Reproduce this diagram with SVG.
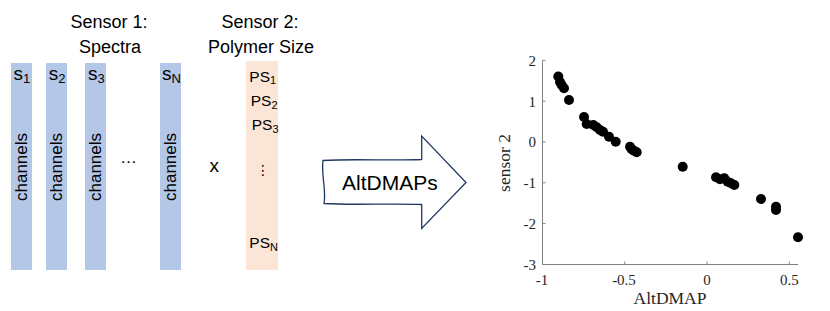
<svg xmlns="http://www.w3.org/2000/svg" width="830" height="311" viewBox="0 0 830 311">
<style>
.sans{font-family:"Liberation Sans",Arial,sans-serif;fill:#000}
.serif{font-family:"Liberation Serif","Times New Roman",serif;fill:#262626}
.bar{fill:#B4C7E7}
.ps{fill:#FBE5D6}
.title{font-size:18px;text-anchor:middle}
.ch{font-size:17px;text-anchor:middle}
.lab{font-size:19px}
.sub{font-size:13px}
.psl{font-size:15.5px}
.pssub{font-size:11px}
.tick{font-size:15px}
.axis{stroke:#808080;stroke-width:1;fill:none}
.dot{fill:#000}
</style>
<rect width="830" height="311" fill="#fff"/>

<g id="title-sensor1">
<text class="sans title" x="109" y="28">Sensor 1:</text>
<text class="sans title" x="110" y="53">Spectra</text>
</g>
<g id="title-sensor2">
<text class="sans title" x="260" y="28">Sensor 2:</text>
<text class="sans title" x="261" y="53">Polymer Size</text>
</g>

<g id="bar-s1">
<rect class="bar" x="11" y="63" width="21" height="207"/>
<text class="sans lab" x="13.5" y="80">s<tspan class="sub" dy="3.3">1</tspan></text>
<text class="sans ch" transform="translate(26.5,167) rotate(-90)">channels</text>
</g>
<g id="bar-s2">
<rect class="bar" x="46" y="63" width="21" height="207"/>
<text class="sans lab" x="48.8" y="80">s<tspan class="sub" dy="3.3">2</tspan></text>
<text class="sans ch" transform="translate(61.5,167) rotate(-90)">channels</text>
</g>
<g id="bar-s3">
<rect class="bar" x="85" y="63" width="21" height="207"/>
<text class="sans lab" x="88" y="80">s<tspan class="sub" dy="3.3">3</tspan></text>
<text class="sans ch" transform="translate(101,167) rotate(-90)">channels</text>
</g>
<g id="ellipsis">
<text class="sans" style="font-size:17px" x="120" y="163">…</text>
</g>
<g id="bar-sN">
<rect class="bar" x="160" y="63" width="21" height="207"/>
<text class="sans lab" x="162" y="80">s<tspan class="sub" dy="3.3">N</tspan></text>
<text class="sans ch" transform="translate(175.5,167) rotate(-90)">channels</text>
</g>
<g id="times">
<text class="sans" style="font-size:19px" x="209.5" y="171.5">x</text>
</g>
<g id="bar-ps">
<rect class="ps" x="246" y="61" width="32" height="209"/>
<text class="sans psl" x="249.3" y="81.5">PS<tspan class="pssub" dy="2.5">1</tspan></text>
<text class="sans psl" x="250.7" y="106">PS<tspan class="pssub" dy="2.5">2</tspan></text>
<text class="sans psl" x="251.7" y="130">PS<tspan class="pssub" dy="2.5">3</tspan></text>
<text style="font-family:'DejaVu Sans',sans-serif;font-size:14px;text-anchor:middle" x="263" y="175">⋮</text>
<text class="sans psl" x="249.3" y="248">PS<tspan class="pssub" dy="2.5">N</tspan></text>
</g>

<g id="arrow-altdmaps">
<path d="M323,160.5 C355,158.5 390,161 421.7,159.5 L421.7,136 L466,182.5 L421.7,228.5 L421.7,204.5 C390,203 355,205.5 324,203.5 C326.5,190 321,175 323,160.5 Z" fill="#fff" stroke="#203864" stroke-width="1.3" stroke-linejoin="miter"/>
<text class="sans" style="font-size:21px" x="342" y="190">AltDMAPs</text>
</g>

<g id="plot">
<g id="axes">
<path class="axis" d="M542.5,60.4 L542.5,264.5 L798,264.5"/>
<path class="axis" d="M624.8,264.5 v-3 M707,264.5 v-3 M789.3,264.5 v-3 M542.5,60.4 h3 M542.5,101.2 h3 M542.5,142 h3 M542.5,182.8 h3 M542.5,223.6 h3"/>
</g>
<g id="yticks" text-anchor="end">
<text class="serif tick" x="536" y="66">2</text>
<text class="serif tick" x="536" y="106.6">1</text>
<text class="serif tick" x="536" y="147.2">0</text>
<text class="serif tick" x="536" y="188">-1</text>
<text class="serif tick" x="536" y="228.8">-2</text>
<text class="serif tick" x="536" y="269.5">-3</text>
</g>
<g id="xticks" text-anchor="middle">
<text class="serif tick" x="542" y="285">-1</text>
<text class="serif tick" x="624" y="285">-0.5</text>
<text class="serif tick" x="707" y="285">0</text>
<text class="serif tick" x="789.3" y="285">0.5</text>
</g>
<text class="serif" style="font-size:17.5px" text-anchor="middle" x="670" y="304">AltDMAP</text>
<text class="serif" style="font-size:17.5px" text-anchor="middle" transform="translate(510,163) rotate(-90)">sensor 2</text>
<g id="points">
<circle class="dot" cx="558.3" cy="76.5" r="5"/>
<circle class="dot" cx="560" cy="82" r="5"/>
<circle class="dot" cx="561.7" cy="85" r="5"/>
<circle class="dot" cx="564" cy="88.3" r="5"/>
<circle class="dot" cx="569" cy="100" r="5"/>
<circle class="dot" cx="584" cy="117" r="5"/>
<circle class="dot" cx="586.7" cy="124" r="5"/>
<circle class="dot" cx="593.3" cy="125" r="5"/>
<circle class="dot" cx="596.7" cy="127.3" r="5"/>
<circle class="dot" cx="600" cy="130" r="5"/>
<circle class="dot" cx="603" cy="131.7" r="5"/>
<circle class="dot" cx="609" cy="136.7" r="5"/>
<circle class="dot" cx="615.7" cy="141.7" r="5"/>
<circle class="dot" cx="630" cy="146.7" r="5"/>
<circle class="dot" cx="631.7" cy="149.3" r="5"/>
<circle class="dot" cx="634" cy="150.7" r="5"/>
<circle class="dot" cx="636.7" cy="152.3" r="5"/>
<circle class="dot" cx="682.7" cy="166.7" r="5"/>
<circle class="dot" cx="716" cy="177.3" r="5"/>
<circle class="dot" cx="720" cy="179.3" r="5"/>
<circle class="dot" cx="724.3" cy="178.3" r="5"/>
<circle class="dot" cx="727.7" cy="181.7" r="5"/>
<circle class="dot" cx="731" cy="183.3" r="5"/>
<circle class="dot" cx="734.3" cy="185" r="5"/>
<circle class="dot" cx="761" cy="199" r="5"/>
<circle class="dot" cx="776" cy="206.7" r="5"/>
<circle class="dot" cx="776" cy="210" r="5"/>
<circle class="dot" cx="798" cy="237.3" r="5"/>
</g>
</g>
</svg>
